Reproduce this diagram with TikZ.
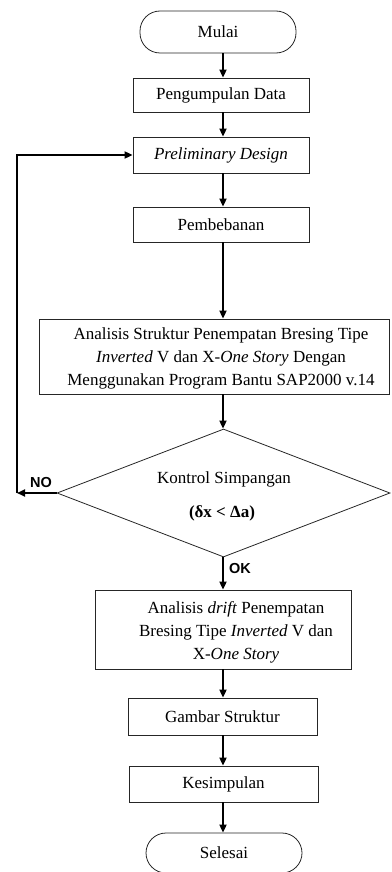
\documentclass[tikz,border=0pt]{standalone}
\usepackage{fontspec}
\setmainfont{Liberation Serif}
\newfontfamily\arialf{Liberation Sans}
\usetikzlibrary{shapes.geometric,arrows.meta}
\begin{document}
\begin{tikzpicture}[x=1pt,y=-1pt,
  box/.style={draw=black!85, line width=0.8pt, rectangle, inner sep=0pt, font=\fontsize{17}{22}\selectfont},
  term/.style={box, rounded corners=20pt},
  arr/.style={line width=1.8pt, -{Triangle[length=8pt,width=7pt]}},
  txt/.style={align=center, inner sep=0pt, font=\fontsize{17}{23}\selectfont},
  lbl/.style={font=\arialf\bfseries\fontsize{14.5}{16}\selectfont, inner sep=0pt}]
\useasboundingbox (0,0) rectangle (391,872);
\coordinate (ax) at (223,0);
\node[term, minimum width=156pt, minimum height=42pt] (mulai) at (218,32) {Mulai};
\node[box, minimum width=176pt, minimum height=34pt] (peng) at (221,95) {Pengumpulan Data};
\node[box, minimum width=176pt, minimum height=36pt] (pd) at (221,155) {\itshape Preliminary Design};
\node[box, minimum width=176pt, minimum height=35pt] (pemb) at (221,224.5) {Pembebanan};
\node[box, minimum width=350pt, minimum height=75pt] (ana) at (214,356.5) {};
\node[txt] (anat) at (221,358) {Analisis Struktur Penempatan Bresing Tipe\\ \textit{Inverted} V dan X-\textit{One Story} Dengan\\ Menggunakan Program Bantu SAP2000 v.14};
\node[diamond, draw=black!85, line width=0.8pt, minimum width=333pt, minimum height=128pt, inner sep=0pt] (dec) at (223.5,493) {};
\node[txt] (dect1) at (224,479) {Kontrol Simpangan};
\node[txt, font=\bfseries\fontsize{17}{20}\selectfont] (dect2) at (222,513) {(δx < Δa)};
\node[box, minimum width=256pt, minimum height=79pt] (drift) at (223,629.5) {};
\node[txt] (driftt) at (236,632) {Analisis \textit{drift} Penempatan\\ Bresing Tipe \textit{Inverted} V dan\\ X-\textit{One Story}};
\node[box, minimum width=189pt, minimum height=37pt] (gamb) at (222.5,716.5) {Gambar Struktur};
\node[box, minimum width=189pt, minimum height=36pt] (kes) at (223.5,784) {Kesimpulan};
\node[term, minimum width=156pt, minimum height=40pt] (sel) at (224,853) {Selesai};
\draw[arr] (mulai.south -| ax) -- (peng.north -| ax);
\draw[arr] (peng.south -| ax) -- (pd.north -| ax);
\draw[arr] (pd.south -| ax) -- (pemb.north -| ax);
\draw[arr] (pemb.south -| ax) -- (ana.north -| ax);
\draw[arr] (ana.south -| ax) -- (dec.north -| ax);
\draw[arr] (dec.south -| ax) -- (drift.north -| ax);
\draw[arr] (drift.south -| ax) -- (gamb.north -| ax);
\draw[arr] (gamb.south -| ax) -- (kes.north -| ax);
\draw[arr] (kes.south -| ax) -- (sel.north -| ax);
\coordinate (cn) at (17,493);
\draw[arr] (dec.west) -- (cn);
\draw[arr] (cn) |- (pd.west);
\node[lbl] (no) at (41,483) {NO};
\node[lbl] (ok) at (240,569) {OK};
\end{tikzpicture}
\end{document}
